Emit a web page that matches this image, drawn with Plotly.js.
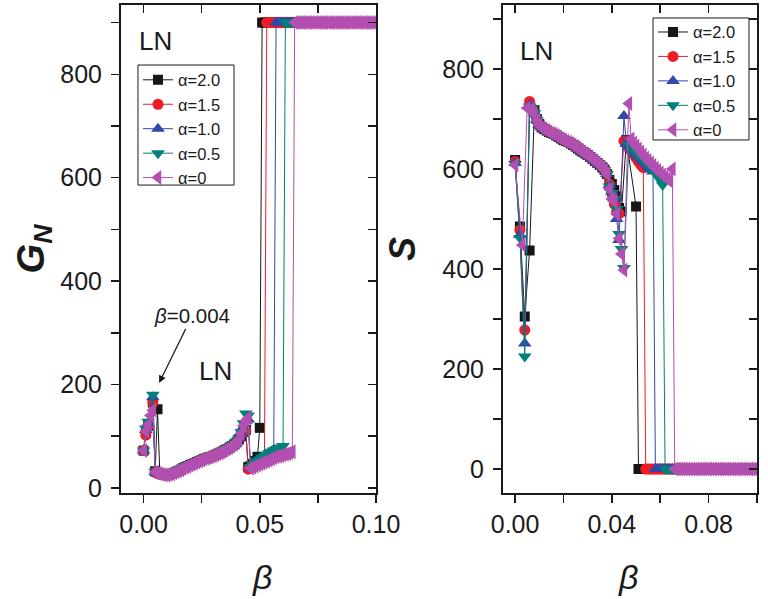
<!DOCTYPE html>
<html>
<head>
<meta charset="utf-8">
<script src="https://cdn.plot.ly/plotly-3.0.1.min.js"></script>
<style>
html,body{margin:0;padding:0;background:#fff;}
#chart{width:768px;height:599px;}
</style>
</head>
<body>
<div id="chart"></div>
<script>
// beta grid (shared by both panels)
const beta = [
0.000,0.001,0.002,0.003,0.004,0.005,0.006,0.007,0.008,0.009,
0.010,0.011,0.012,0.013,0.014,0.015,0.016,0.017,0.018,0.019,
0.020,0.021,0.022,0.023,0.024,0.025,0.026,0.027,0.028,0.029,
0.030,0.031,0.032,0.033,0.034,0.035,0.036,0.037,0.038,0.039,
0.040,0.041,0.042,0.043,0.044,0.045,0.046,0.047,0.048,0.049,
0.050,0.051,0.052,0.053,0.054,0.055,0.056,0.057,0.058,0.059,
0.060,0.061,0.062,0.063,0.064,0.065,0.066,0.067,0.068,0.069,
0.070,0.071,0.072,0.073,0.074,0.075,0.076,0.077,0.078,0.079,
0.080,0.081,0.082,0.083,0.084,0.085,0.086,0.087,0.088,0.089,
0.090,0.091,0.092,0.093,0.094,0.095,0.096,0.097,0.098,0.099,
0.100];

const seriesNames = ['\u03b1=2.0','\u03b1=1.5','\u03b1=1.0','\u03b1=0.5','\u03b1=0'];

// Left panel: G_N
const gnA20 = [
72,106,120,null,165,32,152,28,26,25,
25,26,27,29,31,33,35,38,40,42,
44,46,48,50,52,54,56,57,59,60,
62,64,66,68,70,73,75,78,81,84,
88,94,100,108,112,40,42,46,52,60,
116,900,900,900,900,900,900,900,900,900,
900,900,900,900,900,900,900,900,900,900,
900,900,900,900,900,900,900,900,900,900,
900,900,900,900,900,900,900,900,900,900,
900,900,900,900,900,900,900,900,900,900,
900];
const gnA15 = [
72,102,120,null,165,30,28,27,26,25,
25,26,28,29,31,33,36,38,40,42,
44,46,48,51,53,54,56,58,59,61,
62,64,66,68,71,73,76,78,81,84,
89,96,106,108,110,36,38,40,42,45,
47,50,54,900,900,900,900,900,900,900,
900,900,900,900,900,900,900,900,900,900,
900,900,900,900,900,900,900,900,900,900,
900,900,900,900,900,900,900,900,900,900,
900,900,900,900,900,900,900,900,900,900,
900];
const gnA10 = [
72,112,125,null,175,30,28,27,26,25,
25,26,27,29,31,34,35,38,40,43,
44,46,49,50,52,55,56,57,59,61,
62,64,67,68,70,74,75,78,82,85,
88,95,105,118,130,132,38,42,46,50,
54,58,61,64,67,70,73,900,900,900,
900,900,900,900,900,900,900,900,900,900,
900,900,900,900,900,900,900,900,900,900,
900,900,900,900,900,900,900,900,900,900,
900,900,900,900,900,900,900,900,900,900,
900];
const gnA05 = [
72,115,128,null,180,31,29,28,27,26,
26,27,28,30,32,34,36,39,41,43,
45,47,49,51,53,55,57,58,60,61,
63,65,67,69,71,74,76,79,82,85,
89,96,108,125,144,140,40,44,48,52,
55,58,61,64,67,70,72,74,76,78,
81,900,900,900,900,900,900,900,900,900,
900,900,900,900,900,900,900,900,900,900,
900,900,900,900,900,900,900,900,900,900,
900,900,900,900,900,900,900,900,900,900,
900];
const gnA0 = [
72,110,122,140,150,30,28,27,26,25,
25,26,27,29,31,33,35,38,40,42,
44,46,48,50,52,54,56,57,59,60,
62,64,66,68,70,73,75,78,81,84,
88,93,105,120,130,135,38,40,42,44,
46,48,50,52,54,56,58,60,61,62,
64,65,66,68,70,900,900,900,900,900,
900,900,900,900,900,900,900,900,900,900,
900,900,900,900,900,900,900,900,900,900,
900,900,900,900,900,900,900,900,900,900,
900];

// Right panel: S
const sA20 = [
618,null,485,null,305,null,437,null,718,700,
690,683,680,677,674,672,670,667,664,661,
658,656,654,651,648,645,641,637,634,631,
628,624,620,616,612,608,604,598,590,578,
570,558,545,522,515,null,658,null,null,null,
525,0,0,0,0,0,0,0,0,0,
0,0,0,0,0,0,0,0,0,0,
0,0,0,0,0,0,0,0,0,0,
0,0,0,0,0,0,0,0,0,0,
0,0,0,0,0,0,0,0,0,0,
0];
const sA15 = [
615,null,478,null,278,null,735,722,712,698,
688,683,680,677,674,672,670,667,664,661,
658,656,654,651,648,645,641,637,634,631,
628,624,620,616,612,608,604,598,590,570,
550,530,515,511,null,656,650,643,636,629,
622,615,608,603,0,0,0,0,0,0,
0,0,0,0,0,0,0,0,0,0,
0,0,0,0,0,0,0,0,0,0,
0,0,0,0,0,0,0,0,0,0,
0,0,0,0,0,0,0,0,0,0,
0];
const sA10 = [
612,null,468,null,251,null,728,722,712,698,
688,683,680,677,674,672,670,667,664,661,
658,656,654,651,648,645,641,637,634,631,
628,624,620,616,612,608,604,598,590,568,
555,540,500,458,null,706,650,645,640,635,
630,625,620,615,610,604,599,595,0,0,
0,0,0,0,0,0,0,0,0,0,
0,0,0,0,0,0,0,0,0,0,
0,0,0,0,0,0,0,0,0,0,
0,0,0,0,0,0,0,0,0,0,
0];
const sA05 = [
610,null,462,null,225,null,725,722,712,698,
688,683,680,677,674,672,670,667,664,661,
658,656,654,651,648,645,641,637,634,631,
628,624,620,616,612,608,604,598,590,565,
552,540,520,470,440,402,null,648,643,638,
633,628,623,618,613,608,603,598,592,585,
578,568,0,0,0,0,0,0,0,0,
0,0,0,0,0,0,0,0,0,0,
0,0,0,0,0,0,0,0,0,0,
0,0,0,0,0,0,0,0,0,0,
0];
const sA0 = [
608,null,null,448,null,722,null,720,710,697,
688,683,680,677,674,672,670,667,664,661,
658,656,654,651,648,645,641,637,634,631,
628,624,620,616,612,608,604,598,590,560,
540,535,510,461,430,398,null,731,660,652,
646,640,634,628,622,617,612,607,602,597,
592,588,584,580,576,600,0,0,0,0,
0,0,0,0,0,0,0,0,0,0,
0,0,0,0,0,0,0,0,0,0,
0,0,0,0,0,0,0,0,0,0,
0];

const leftSeries = [gnA20, gnA15, gnA10, gnA05, gnA0];
const rightSeries = [sA20, sA15, sA10, sA05, sA0];

const colors = ['#161616', '#ee1c24', '#3446a8', '#00807a', '#b24fb0'];
const symbols = ['square', 'circle', 'triangle-up', 'triangle-down', 'triangle-left'];
const msize = [10, 11, 12, 12, 13];

const FONT = 'Liberation Sans, Arial, Helvetica, sans-serif';
const traces = [];
for (let i = 0; i < 5; i++) {
  traces.push({
    x: beta, y: leftSeries[i], xaxis: 'x', yaxis: 'y',
    type: 'scatter', mode: 'lines+markers', connectgaps: true,
    name: seriesNames[i], legend: 'legend',
    line: {color: colors[i], width: 1},
    marker: {symbol: symbols[i], size: msize[i], color: colors[i], line: {width: 0}},
    hoverinfo: 'skip'
  });
}
for (let i = 0; i < 5; i++) {
  traces.push({
    x: beta, y: rightSeries[i], xaxis: 'x2', yaxis: 'y2',
    type: 'scatter', mode: 'lines+markers', connectgaps: true,
    name: seriesNames[i], legend: 'legend2',
    line: {color: colors[i], width: 1},
    marker: {symbol: symbols[i], size: msize[i], color: colors[i], line: {width: 0}},
    hoverinfo: 'skip'
  });
}
// empty traces to register the mirrored (inside-tick) frame axes
traces.push({x: [], y: [], xaxis: 'x3', yaxis: 'y3', type: 'scatter', mode: 'markers', showlegend: false, hoverinfo: 'skip'});
traces.push({x: [], y: [], xaxis: 'x4', yaxis: 'y4', type: 'scatter', mode: 'markers', showlegend: false, hoverinfo: 'skip'});

const AX = '#1a1a1a';
function baseAxis(extra) {
  return Object.assign({
    showgrid: false, zeroline: false, showline: true, linecolor: AX, linewidth: 2,
    ticks: 'outside', ticklen: 8, tickwidth: 1.5, tickcolor: AX,
    tickfont: {family: FONT, size: 25, color: '#1a1a1a'},
    fixedrange: true
  }, extra);
}
function frameAxis(extra) {
  return Object.assign({
    showgrid: false, zeroline: false, showline: true, linecolor: AX, linewidth: 2,
    ticks: 'inside', ticklen: 8, tickwidth: 1.5, tickcolor: AX,
    showticklabels: false, fixedrange: true
  }, extra);
}

const xL = [-0.0097, 0.1], yL = [-10, 934];
const xR = [-0.005, 0.1], yR = [-48, 928];
const dL = [0, 0.401], dR = [0.6006, 1];
const legFont = {family: FONT, size: 16.5, color: '#1a1a1a'};

const layout = {
  width: 768, height: 599,
  margin: {l: 121, r: 11, t: 5, b: 106},
  paper_bgcolor: '#fff', plot_bgcolor: '#fff',
  font: {family: FONT, color: '#1a1a1a'},
  xaxis: baseAxis({domain: dL, range: xL, anchor: 'y', tick0: 0, dtick: 0.05, tickformat: '.2f',
    minor: {tick0: 0, dtick: 0.025, ticks: 'outside', ticklen: 8, tickwidth: 1.5, tickcolor: AX}}),
  yaxis: baseAxis({domain: [0, 1], range: yL, anchor: 'x', tick0: 0, dtick: 200,
    minor: {tick0: 0, dtick: 100, ticks: 'outside', ticklen: 8, tickwidth: 1.5, tickcolor: AX},
    ticklabelstandoff: 4,
    title: {text: '<b><i>G<sub>N</sub></i></b>', font: {family: FONT, size: 38}, standoff: 4}}),
  xaxis2: baseAxis({domain: dR, range: xR, anchor: 'y2', tick0: 0, dtick: 0.04, tickformat: '.2f',
    minor: {tick0: 0, dtick: 0.02, ticks: 'outside', ticklen: 8, tickwidth: 1.5, tickcolor: AX}}),
  yaxis2: baseAxis({domain: [0, 1], range: yR, anchor: 'x2', tick0: 0, dtick: 200,
    minor: {tick0: 0, dtick: 100, ticks: 'outside', ticklen: 8, tickwidth: 1.5, tickcolor: AX},
    ticklabelstandoff: 4,
    title: {text: '<b><i>S</i></b>', font: {family: FONT, size: 36}, standoff: 16}}),
  xaxis3: frameAxis({overlaying: 'x', side: 'top', anchor: 'y3', range: xL, tick0: 0, dtick: 0.05,
    minor: {tick0: 0, dtick: 0.025, ticks: 'inside', ticklen: 8, tickwidth: 1.5, tickcolor: AX}}),
  yaxis3: frameAxis({overlaying: 'y', side: 'right', anchor: 'x3', range: yL, tick0: 0, dtick: 200,
    minor: {tick0: 0, dtick: 100, ticks: 'inside', ticklen: 8, tickwidth: 1.5, tickcolor: AX}}),
  xaxis4: frameAxis({overlaying: 'x2', side: 'top', anchor: 'y4', range: xR, tick0: 0, dtick: 0.04,
    minor: {tick0: 0, dtick: 0.02, ticks: 'inside', ticklen: 8, tickwidth: 1.5, tickcolor: AX}}),
  yaxis4: frameAxis({overlaying: 'y2', side: 'right', anchor: 'x4', range: yR, tick0: 0, dtick: 200,
    minor: {tick0: 0, dtick: 100, ticks: 'inside', ticklen: 8, tickwidth: 1.5, tickcolor: AX}}),
  legend: {x: 0.0267, y: 0.882, xanchor: 'left', yanchor: 'top',
    bgcolor: 'rgba(0,0,0,0)', borderwidth: 0, font: legFont, tracegroupgap: 0, itemwidth: 30},
  legend2: {x: 0.8365, y: 0.980, xanchor: 'left', yanchor: 'top',
    bgcolor: 'rgba(0,0,0,0)', borderwidth: 0, font: legFont, tracegroupgap: 0, itemwidth: 30},
  shapes: [
    {type: 'rect', xref: 'paper', yref: 'paper', x0: 0.0267, x1: 0.1777, y0: 0.631, y1: 0.877,
     line: {color: '#1a1a1a', width: 1}, fillcolor: 'rgba(0,0,0,0)', layer: 'above'},
    {type: 'rect', xref: 'paper', yref: 'paper', x0: 0.8365, x1: 0.9874, y0: 0.7234, y1: 0.9734,
     line: {color: '#1a1a1a', width: 1}, fillcolor: 'rgba(0,0,0,0)', layer: 'above'}
  ],
  annotations: [
    {xref: 'paper', yref: 'paper', x: 0.055, y: 0.926, xanchor: 'center', yanchor: 'middle',
     text: 'LN', showarrow: false, font: {family: FONT, size: 26, color: '#1a1a1a'}},
    {xref: 'paper', yref: 'paper', x: 0.1478, y: 0.25, xanchor: 'center', yanchor: 'middle',
     text: 'LN', showarrow: false, font: {family: FONT, size: 26, color: '#1a1a1a'}},
    {xref: 'paper', yref: 'paper', x: 0.654, y: 0.9057, xanchor: 'center', yanchor: 'middle',
     text: 'LN', showarrow: false, font: {family: FONT, size: 26, color: '#1a1a1a'}},
    {xref: 'x', yref: 'y', x: 0.0067, y: 203, ax: 33, ay: -67, text: '<i>\u03b2</i>=0.004',
     showarrow: true, arrowhead: 2, arrowsize: 1.2, arrowwidth: 1.2, arrowcolor: '#1a1a1a',
     font: {family: FONT, size: 20.5, color: '#1a1a1a'}},
    {xref: 'paper', yref: 'paper', x: 0.2217, y: -0.172, xanchor: 'center', yanchor: 'middle',
     text: '<i>\u03b2</i>', showarrow: false, font: {family: FONT, size: 34, color: '#1a1a1a'}},
    {xref: 'paper', yref: 'paper', x: 0.797, y: -0.172, xanchor: 'center', yanchor: 'middle',
     text: '<i>\u03b2</i>', showarrow: false, font: {family: FONT, size: 34, color: '#1a1a1a'}}
  ],
  showlegend: true
};

Plotly.newPlot('chart', traces, layout, {displayModeBar: false, staticPlot: true});
</script>
</body>
</html>
